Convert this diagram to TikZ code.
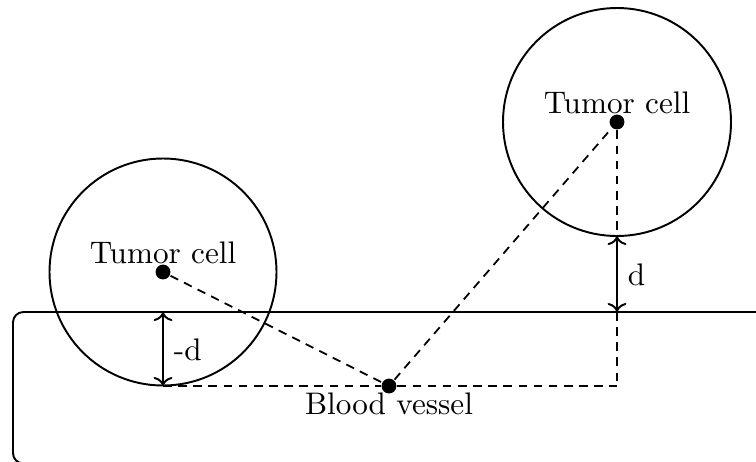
\documentclass[tikz,border=0pt]{standalone}
\usetikzlibrary{arrows.meta}
\begin{document}
\begin{tikzpicture}[x=0.3367pt,y=-0.3367pt,line width=0.65pt,
  dot/.style={circle,fill=black,inner sep=0pt,minimum size=5pt},
  cellcirc/.style={draw,line width=0.65pt},
  link/.style={dash pattern=on 2.9pt off 2.2pt,line width=0.6pt},
  measure/.style={<->,line width=0.65pt},
  lbl/.style={font=\fontsize{10.5pt}{12.6pt}\selectfont,inner sep=0pt}]
\useasboundingbox (0,0) rectangle (756,461);
\clip (0,0) rectangle (756,461);
% blood vessel
\draw[rounded corners=3.5pt] (800,312) -- (13,312) -- (13,463.5) -- (800,463.5);
% tumor cells
\draw[cellcirc] (163,272) circle[radius=113.5];
\draw[cellcirc] (617,122) circle[radius=114];
% points
\node[dot] (c1) at (163,272) {};
\node[dot] (c2) at (617,122) {};
\node[dot] (bv) at (389,386) {};
\coordinate (b1) at (163,386);
\coordinate (t1) at (163,312);
\coordinate (b2) at (617,386);
\coordinate (t2) at (617,312);
\coordinate (e2) at (617,236);
% dashed links
\draw[link] (c1) -- (bv);
\draw[link] (bv) -- (c2);
\draw[link] (b1) -- (bv) -- (b2);
\draw[link] (c2) -- (e2);
\draw[link] (t2) -- (b2);
% distances
\draw[measure] (t1) -- (b1);
\draw[measure] (e2) -- (t2);
\node[lbl,anchor=base west] (ld1) at (173,360) {-d};
\node[lbl,anchor=base west] (ld2) at (627,285) {d};
% labels
\node[lbl,anchor=base] (n1) at (163,263) {Tumor cell};
\node[lbl,anchor=base] (n2) at (617,113) {Tumor cell};
\node[lbl,anchor=base] (n3) at (389,414) {Blood vessel};
\end{tikzpicture}
\end{document}
